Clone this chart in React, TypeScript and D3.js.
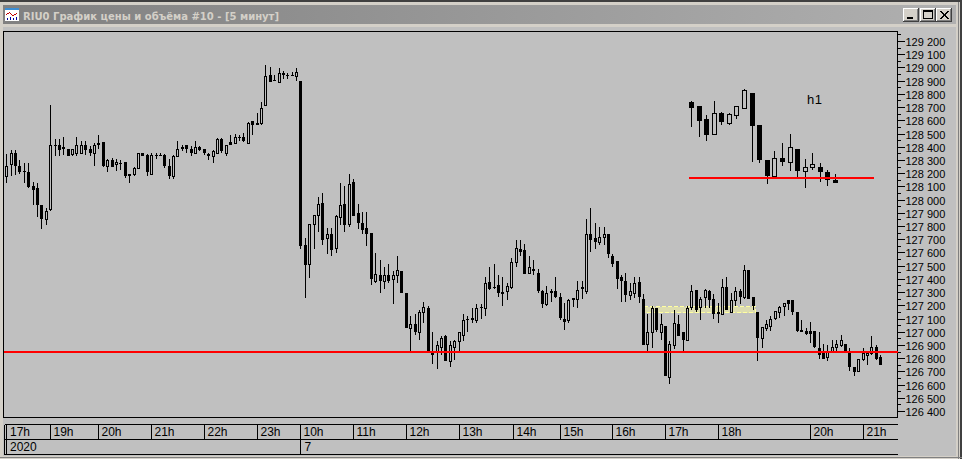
import React from "react";
import * as d3 from "d3";

const W = 962, H = 459;

const opens = [
128180,128270,128360,128260,128220,128210,128110,128090,127960,127860,
127930,128420,128420,128400,128390,128350,128360,128360,128420,128390,
128360,128430,128440,128260,128300,128270,128280,128290,128200,128200,
128240,128360,128340,128200,128340,128340,128340,128260,128180,128330,
128395,128420,128390,128360,128400,128385,128350,128330,128360,128460,
128360,128440,128430,128480,128480,128430,128600,128580,128580,128720,
128950,128910,128890,128960,128950,128950,128940,128900,127660,127520,
127820,127890,127980,127710,127740,127640,127870,127970,127820,128140,
127900,127830,127790,127750,127390,127430,127390,127430,127400,127430,
127460,127300,127030,127060,127000,127150,127180,126840,126860,126890,
126970,126780,126890,126930,126980,127100,127110,127090,127190,127180,
127380,127340,127360,127300,127310,127340,127530,127630,127620,127450,
127480,127450,127310,127210,127310,127310,127270,127100,127090,127250,
127250,127340,127310,127740,127710,127680,127720,127740,127580,127540,
127420,127390,127280,127300,127380,127250,126910,127000,127180,127000,
127050,126660,126900,127060,127000,126940,127190,127320,127190,127270,
127310,127250,127150,127140,127340,127150,127240,127310,127270,127470,
127270,127150,126960,127030,127050,127110,127150,127200,127240,127240,
127150,127020,127010,127010,127010,126880,126840,126810,126850,126890,
126900,126910,126860,126740,126710,126800,126830,126840,126890,126810];
const highs = [
128350,128380,128380,128300,128280,128280,128140,128130,127960,127940,
128720,128460,128460,128480,128390,128390,128480,128450,128450,128410,
128430,128490,128440,128310,128320,128310,128300,128290,128200,128250,
128360,128360,128350,128360,128360,128360,128345,128310,128340,128450,
128420,128420,128410,128450,128410,128385,128360,128380,128470,128470,
128420,128490,128500,128490,128510,128590,128600,128660,128740,129020,
129010,128950,129000,128980,128960,128970,129000,128900,127710,127820,
127890,128020,128050,127790,127790,127890,128130,128110,128200,128160,
127970,127910,127910,127750,127600,127550,127490,127520,127460,127580,
127460,127300,127120,127140,127170,127230,127200,127000,126930,126970,
126980,126930,126940,127000,127140,127120,127180,127210,127210,127420,
127490,127520,127430,127420,127370,127560,127700,127700,127670,127580,
127550,127480,127320,127350,127330,127420,127300,127220,127250,127260,
127390,127390,127860,127940,127830,127800,127800,127740,127590,127540,
127430,127450,127370,127420,127420,127290,127140,127200,127180,127140,
127050,126930,127170,127130,127000,127200,127360,127320,127270,127330,
127320,127290,127220,127400,127420,127300,127340,127330,127510,127470,
127270,127150,127040,127090,127120,127160,127200,127220,127240,127240,
127150,127090,127030,127080,127010,127000,126910,126900,126940,126940,
126980,126910,126880,126740,126800,126880,126850,126970,126900,126830];
const lows = [
128130,128180,128190,128200,128130,128090,127960,127870,127780,127810,
127920,128330,128330,128340,128330,128330,128330,128360,128340,128330,
128260,128390,128250,128210,128250,128220,128230,128170,128130,128180,
128240,128330,128180,128190,128310,128330,128240,128160,128160,128330,
128370,128360,128330,128360,128370,128340,128300,128280,128360,128360,
128330,128420,128430,128445,128440,128430,128490,128570,128570,128720,
128890,128900,128890,128920,128920,128940,128900,127630,127260,127410,
127630,127760,127660,127590,127580,127600,127810,127760,127800,127880,
127780,127740,127650,127360,127370,127300,127330,127370,127210,127370,
127300,127030,126850,126980,126940,127070,126840,126760,126720,126830,
126780,126740,126790,126840,126930,127000,127070,127070,127100,127120,
127320,127330,127270,127200,127240,127330,127490,127580,127440,127440,
127430,127300,127180,127200,127230,127260,127090,127020,127070,127190,
127180,127250,127290,127610,127630,127660,127660,127560,127490,127330,
127230,127230,127240,127260,127220,126900,126840,126880,127000,126940,
126670,126610,126870,126970,126860,126930,127170,127150,127090,127180,
127180,127100,127070,127140,127170,127150,127200,127210,127250,127250,
127170,126780,126880,127010,127010,127090,127110,127120,127170,127130,
127000,127000,126980,126920,126880,126800,126800,126780,126840,126850,
126890,126840,126710,126670,126710,126780,126750,126830,126790,126750];
const closes = [
128260,128360,128260,128210,128210,128100,128080,127960,127860,127920,
128420,128410,128380,128390,128330,128390,128420,128420,128380,128360,
128420,128420,128260,128300,128250,128290,128270,128180,128180,128240,
128360,128335,128210,128340,128330,128330,128260,128180,128330,128390,
128400,128390,128360,128400,128380,128360,128330,128370,128460,128370,
128420,128420,128480,128470,128450,128580,128570,128570,128700,128940,
128890,128900,128960,128950,128940,128945,128970,127650,127510,127820,
127890,127970,127700,127740,127620,127880,127960,127810,128120,127880,
127830,127770,127740,127400,127440,127390,127430,127390,127430,127470,
127300,127030,127060,127000,127150,127190,126840,126830,126900,126960,
126780,126900,126930,127000,127090,127090,127090,127180,127180,127370,
127330,127340,127300,127305,127350,127530,127640,127610,127440,127490,
127460,127310,127210,127300,127295,127270,127110,127080,127240,127260,
127320,127330,127740,127700,127680,127720,127740,127590,127520,127400,
127390,127280,127310,127370,127270,126900,127000,127180,127020,127060,
126670,126910,127070,126970,126940,127180,127310,127170,127250,127320,
127240,127140,127140,127340,127170,127240,127310,127270,127470,127250,
127200,126960,127040,127060,127100,127160,127190,127220,127210,127150,
127010,127000,126990,126990,126890,126830,126800,126850,126890,126910,
126940,126850,126740,126700,126800,126840,126840,126890,126800,126750];

const insetOpens = [128740,128710,128610,128500,128660,128580,128640,128700,128810,128570,128300,128180,128320,128290,128390,128220,128250,128250,128210,128150];
const insetHighs = [128750,128710,128640,128750,128670,128660,128710,128840,128810,128570,128300,128370,128430,128500,128390,128310,128360,128280,128230,128200];
const insetLows = [128550,128480,128450,128500,128570,128570,128610,128700,128290,128280,128120,128170,128260,128220,128160,128090,128230,128140,128110,128130];
const insetCloses = [128700,128600,128490,128660,128590,128650,128710,128830,128560,128300,128180,128320,128290,128400,128220,128250,128270,128210,128150,128130];

const priceTicks = d3.range(126400, 129201, 100);
const minorTicks = d3.range(126450, 129300, 100);
const hourLabels = ["19h","20h","21h","22h","23h","10h","11h","12h","13h","14h","15h","16h","17h","18h","20h","21h"];
const hourIndex = [10,21,33,45,57,67,79,91,103,115.5,126,138,150,162,183,195];
const supportLevel = 126850;
const insetLevel = 128170;
const zoneLow = 127150, zoneHigh = 127200;
const zoneFrom = 145, zoneTo = 170;

const TITLE = "RIU0 График цены и объёма #10 - [5 минут]";
const UI = "'Liberation Sans', Arial, sans-serif";

const y = d3.scaleLinear().domain([126400, 129200]).range([411.5, 41.5]);
const xMain = d3.scaleLinear().domain([0, 199]).range([6.7, 880.7]);
const xInset = d3.scaleLinear().domain([0, 19]).range([691.5, 835.5]);
const snap = (v: number) => Math.floor(v) + 0.5;

function Candle({ cx, o, h, l, c, w }: { cx: number; o: number; h: number; l: number; c: number; w: number }) {
  const yt = Math.round(y(Math.max(o, c)));
  const yb = Math.round(y(Math.min(o, c)));
  const up = c > o;
  const left = cx - w / 2;
  return (
    <g shapeRendering="crispEdges">
      <line x1={cx} x2={cx} y1={Math.round(y(h))} y2={Math.round(y(l))} stroke="#000" />
      {up ? (
        <rect x={left + 0.5} y={yt + 0.5} width={w - 1} height={Math.max(yb - yt, 1)} fill="#c0c0c0" stroke="#000" />
      ) : (
        <rect x={left} y={yt} width={w} height={Math.max(yb - yt, 1)} fill="#000" />
      )}
    </g>
  );
}

export default function App() {
  const plotL = 3.5, plotT = 31.5, plotR = 897.5, plotB = 417.5;
  const zoneTop = Math.round(y(zoneHigh));
  const zoneBottom = Math.round(y(zoneLow));
  return (
    <svg width={W} height={H} style={{ position: "fixed", left: 0, top: 0, display: "block" }}>
      <defs>
        <linearGradient id="tb" x1="0" x2="1" y1="0" y2="0">
          <stop offset="0" stopColor="#808080" />
          <stop offset="1" stopColor="#b0b0b0" />
        </linearGradient>
      </defs>
      {/* window frame */}
      <rect x={0} y={0} width={W} height={H} fill="#d4d0c8" />
      <rect x={0} y={0} width={W} height={2} fill="#404040" />
      <rect x={960} y={0} width={2} height={H} fill="#404040" />
      <rect x={958} y={2} width={1} height={H} fill="#808080" />
      <rect x={0} y={457} width={W} height={1} fill="#808080" />
      <rect x={3} y={27} width={953} height={429} fill="#c0c0c0" />
      {/* title bar */}
      <rect x={3} y={5} width={953} height={19} fill="url(#tb)" />
      {/* icon */}
      <g shapeRendering="crispEdges">
        <rect x={5} y={8} width={14} height={13} fill="#ffffff" />
        <rect x={5} y={8} width={14} height={2} fill="#3a8ed5" />
        <path d="M6.5 14.5 L9.5 12.5 L12.5 15.5 L17.5 13.5" stroke="#c00000" fill="none" />
        <path d="M7.5 20V18M10.5 20V17M13.5 20V18M16.5 20V17" stroke="#0000a0" fill="none" />
      </g>
      <text x={23} y={20} fontFamily="'DejaVu Sans', Verdana, sans-serif" fontWeight="bold" fontSize={11} fill="#d4d0c8" textLength={256} lengthAdjust="spacingAndGlyphs">{TITLE}</text>
      {/* window buttons */}
      <g shapeRendering="crispEdges">
        {[903, 920, 936].map((bx) => (
          <g key={bx}>
            <rect x={bx} y={8} width={16} height={14} fill="#404040" />
            <rect x={bx} y={8} width={15} height={13} fill="#ffffff" />
            <rect x={bx + 1} y={9} width={14} height={12} fill="#808080" />
            <rect x={bx + 1} y={9} width={13} height={11} fill="#d4d0c8" />
          </g>
        ))}
        <rect x={907} y={17} width={6} height={2} fill="#000" />
        <rect x={923.5} y={10.5} width={9} height={8} fill="none" stroke="#000" />
        <rect x={923} y={10} width={10} height={2} fill="#000" />
        <path d="M940 11 L948 19 M948 11 L940 19 M941 11 L949 19 M949 11 L941 19" stroke="#000" fill="none" shapeRendering="auto" />
      </g>
      {/* plot */}
      <rect x={plotL} y={plotT} width={plotR - plotL} height={plotB - plotT} fill="#c0c0c0" stroke="#000" shapeRendering="crispEdges" />
      {/* pale zone */}
      <rect
        x={snap(xMain(zoneFrom))}
        y={zoneTop + 0.5}
        width={xMain(zoneTo) - xMain(zoneFrom) + 2}
        height={zoneBottom - zoneTop}
        fill="#dcdcb0"
        stroke="#ffffa0"
        strokeDasharray="4 2"
        shapeRendering="crispEdges"
      />
      {/* main candles */}
      {opens.map((o, i) => (
        <Candle key={i} cx={snap(xMain(i))} o={o} h={highs[i]} l={lows[i]} c={closes[i]} w={3} />
      ))}
      {/* inset candles */}
      {insetOpens.map((o, i) => (
        <Candle key={i} cx={snap(xInset(i))} o={o} h={insetHighs[i]} l={insetLows[i]} c={insetCloses[i]} w={5} />
      ))}
      {/* level lines */}
      <rect x={plotL} y={Math.round(y(supportLevel)) - 1} width={plotR - plotL} height={2} fill="#ff0000" shapeRendering="crispEdges" />
      <rect x={689} y={Math.round(y(insetLevel)) - 1} width={185} height={2} fill="#ff0000" shapeRendering="crispEdges" />
      <text x={807} y={104} fontFamily={UI} fontSize={13} fill="#000" textLength={15}>h1</text>
      {/* price axis */}
      {priceTicks.map((p) => (
        <g key={p}>
          <line x1={898} x2={905} y1={snap(y(p))} y2={snap(y(p))} stroke="#000" shapeRendering="crispEdges" />
          <text x={905.5} y={y(p) + 4.5} fontFamily={UI} fontSize={11} fill="#000">
            {d3.format(",")(p).replace(",", " ")}
          </text>
        </g>
      ))}
      {minorTicks.map((p) => (
        <line key={p} x1={898} x2={901} y1={snap(y(p))} y2={snap(y(p))} stroke="#000" shapeRendering="crispEdges" />
      ))}
      {/* time axis */}
      <g shapeRendering="crispEdges" stroke="#000" fill="none">
        <path d="M4.5 424.5H897.5M4.5 439.5H897.5M4.5 454.5H897.5" />
        <path d="M4.5 424.5V454.5M6.5 424.5V454.5" />
        {hourIndex.map((t) => (
          <line key={t} x1={snap(xMain(t))} x2={snap(xMain(t))} y1={424.5} y2={439.5} />
        ))}
        <line x1={snap(xMain(67))} x2={snap(xMain(67))} y1={439.5} y2={454.5} />
      </g>
      <g fontFamily={UI} fontSize={12} fill="#000">
        <text x={10} y={436}>17h</text>
        {hourLabels.map((t, i) => (
          <text key={i} x={snap(xMain(hourIndex[i])) + 3} y={436}>{t}</text>
        ))}
        <text x={10} y={451}>2020</text>
        <text x={snap(xMain(67)) + 4} y={451}>7</text>
      </g>
    </svg>
  );
}
